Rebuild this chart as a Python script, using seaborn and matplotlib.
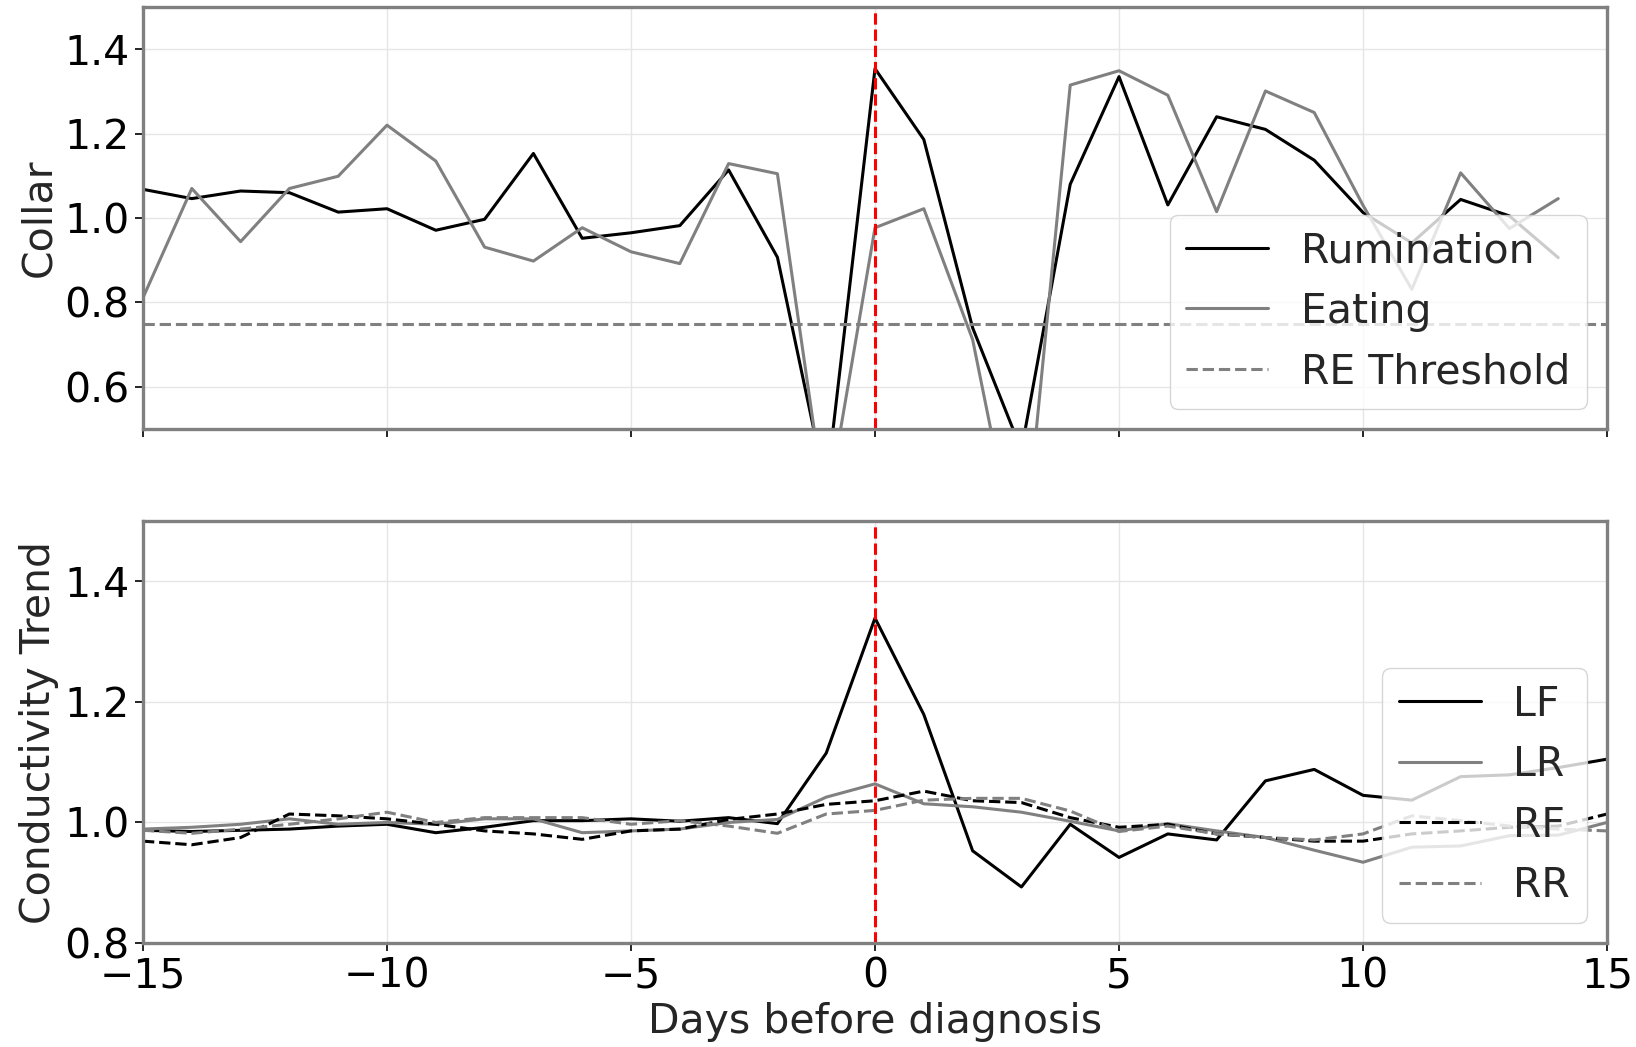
import numpy as np
import matplotlib
matplotlib.use("Agg")
import matplotlib.pyplot as plt
import seaborn as sns

# collar data, days -15 .. 14
days_collar = np.arange(-15, 15)
rumination = [1.068, 1.046, 1.064, 1.060, 1.014, 1.022, 0.971, 0.997, 1.153, 0.952,
              0.965, 0.982, 1.114, 0.907, 0.36, 1.354, 1.186, 0.74, 0.45, 1.080,
              1.335, 1.031, 1.240, 1.210, 1.137, 1.013, 0.941, 1.044, 1.005, 0.906]
eating = [0.811, 1.070, 0.944, 1.070, 1.099, 1.220, 1.135, 0.931, 0.898, 0.977,
          0.920, 0.892, 1.129, 1.105, 0.30, 0.977, 1.022, 0.712, 0.14, 1.315,
          1.349, 1.291, 1.015, 1.301, 1.250, 1.03, 0.831, 1.107, 0.975, 1.046]
re_threshold = 0.75

# conductivity trend per quarter, days -15 .. 15
days_cond = np.arange(-15, 16)
lf = [0.987, 0.985, 0.987, 0.989, 0.994, 0.997, 0.983, 0.992, 1.003, 1.003, 1.006,
      1.002, 1.008, 0.998, 1.115, 1.339, 1.179, 0.953, 0.893, 0.997,
      0.942, 0.981, 0.971, 1.069, 1.088, 1.045, 1.037, 1.076, 1.079, 1.091, 1.105]
lr = [0.989, 0.992, 0.997, 1.006, 0.997, 1.0, 0.997, 1.006, 1.006, 0.983, 0.986,
      0.989, 1.0, 1.005, 1.042, 1.064, 1.031, 1.026, 1.017, 1.002,
      0.986, 0.998, 0.986, 0.975, 0.954, 0.934, 0.959, 0.961, 0.978, 0.979, 1.0]
rf = [0.969, 0.963, 0.975, 1.014, 1.011, 1.006, 0.997, 0.986, 0.981, 0.972, 0.986,
      0.989, 1.005, 1.014, 1.03, 1.036, 1.052, 1.036, 1.033, 1.008,
      0.992, 0.997, 0.981, 0.975, 0.969, 0.969, 0.981, 0.986, 0.992, 0.994, 1.014]
rr = [0.987, 0.982, 0.989, 0.997, 1.006, 1.017, 1.0, 1.008, 1.008, 1.008, 0.997,
      1.003, 0.994, 0.982, 1.014, 1.020, 1.037, 1.040, 1.040, 1.019,
      0.985, 0.994, 0.981, 0.975, 0.971, 0.981, 1.011, 1.003, 0.994, 0.989, 0.986]

FS = 29.5
sns.set_theme(style="whitegrid", rc={
    "axes.edgecolor": "0.5",
    "axes.linewidth": 2.4,
    "grid.color": "0.9",
    "grid.linewidth": 1.0,
    "xtick.bottom": True,
    "ytick.left": True,
    "xtick.color": "black",
    "ytick.color": "black",
    "xtick.major.size": 6,
    "ytick.major.size": 6,
    "xtick.major.width": 1.2,
    "ytick.major.width": 1.2,
})
plt.rcParams["font.family"] = ["DejaVu Sans"]

fig, (ax1, ax2) = plt.subplots(2, 1, figsize=(16.36, 10.47), dpi=100, sharex=True)
fig.subplots_adjust(left=0.0874, right=0.9823, top=0.9933, bottom=0.0993, hspace=0.218)

lw = 2.2
sns.lineplot(x=days_collar, y=rumination, ax=ax1, color="black", lw=lw, label="Rumination")
sns.lineplot(x=days_collar, y=eating, ax=ax1, color="gray", lw=lw, label="Eating")
ax1.axhline(re_threshold, color="gray", ls="--", lw=lw, label="RE Threshold")
ax1.axvline(0, color="red", ls="--", lw=lw)
ax1.set_ylim(0.5, 1.5)
ax1.set_yticks([0.6, 0.8, 1.0, 1.2, 1.4])
ax1.set_ylabel("Collar", fontsize=FS)
ax1.legend(loc="lower right", fontsize=FS)

sns.lineplot(x=days_cond, y=lf, ax=ax2, color="black", lw=lw, label="LF")
sns.lineplot(x=days_cond, y=lr, ax=ax2, color="gray", lw=lw, label="LR")
sns.lineplot(x=days_cond, y=rf, ax=ax2, color="black", lw=lw, ls="--", label="RF")
sns.lineplot(x=days_cond, y=rr, ax=ax2, color="gray", lw=lw, ls="--", label="RR")
ax2.axvline(0, color="red", ls="--", lw=lw)
ax2.set_ylim(0.8, 1.5)
ax2.set_yticks([0.8, 1.0, 1.2, 1.4])
ax2.set_xlim(-15, 15)
ax2.set_xticks([-15, -10, -5, 0, 5, 10, 15])
ax2.set_ylabel("Conductivity Trend", fontsize=FS)
ax2.set_xlabel("Days before diagnosis", fontsize=FS)
ax2.legend(loc="lower right", fontsize=FS)

for ax in (ax1, ax2):
    ax.tick_params(labelsize=FS)

fig.savefig("out.png", dpi=100)
